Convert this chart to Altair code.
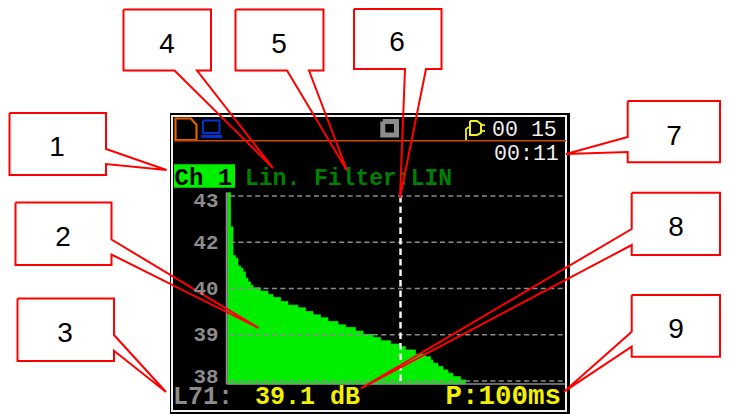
import json
import altair as alt
import pandas as pd

W, H = 713, 406

# ---- statistics bars: LCD column edges and level (dB) ----
bin_start = [0,1,2,3,4,5,6,7,8,9,10,13,16,18,21,24,28,31,34,37,40,44,47,51,54,58,61,65,69,71,75,79,81,82,84,86,88,90,93]
bin_end   = [1,2,3,4,5,6,7,8,9,10,13,16,18,21,24,28,31,34,37,40,44,47,51,54,58,61,65,69,71,75,79,81,82,84,86,88,90,93,95]
levels = [43.09,42.17,41.39,41.32,41.11,41.05,40.95,40.78,40.68,40.59,40.52,40.43,40.34,40.26,40.15,40.05,
          39.98,39.88,39.79,39.71,39.61,39.52,39.45,39.35,39.26,39.18,39.09,39.00,38.93,38.84,38.73,38.66,
          38.57,38.48,38.39,38.30,38.21,38.12,38.03]
bar_floor = 37.92
grid_levels = [38, 39.25, 40.5, 41.75, 43]
axis_positions = [38.116, 39.25, 40.5, 41.75, 42.89]
axis_labels = ["38", "39", "40", "42", "43"]
cursor_col = 69

# ---- screen texts ----
clock_text = ["00 15", "00:11"]
clock_x    = [492, 494]
clock_y    = [136, 160]
screen_text = ["Ch 1", "Lin. Filter:LIN", "L71:", "39.1 dB", "P:100ms"]
screen_x    = [174.5, 245, 173, 255, 445.5]
screen_y    = [185, 185, 404, 404, 404]
screen_size = [24, 23, 25, 25, 27.5]
screen_col  = ["#000000", "#008000", "#8c8c8c", "#f0f000", "#f0f000"]

# ---- callouts ----
callout_num = ["1", "2", "3", "4", "5", "6", "7", "8", "9"]
callout_tx  = [57, 63, 65, 167, 279, 397, 674, 676, 676]
callout_ty  = [148, 238, 334, 45, 45, 43, 137, 228, 330]
callout_paths = {
    "1": [(9.5,113),(106,113),(106,149),(166.5,170),(106,164),(106,175),(9.5,175),(9.5,113)],
    "2": [(15.5,202.5),(111.5,202.5),(111.5,239.5),(258.5,328),(111.5,254.5),(111.5,265),(15.5,265),(15.5,202.5)],
    "3": [(17.5,298.5),(114,298.5),(114,335),(166,392),(114,350.7),(114,361),(17.5,361),(17.5,298.5)],
    "4": [(123.5,9.5),(211,9.5),(211,70.5),(197,70.5),(273,168),(174.5,70.5),(123.5,70.5),(123.5,9.5)],
    "5": [(235.5,9.5),(323.5,9.5),(323.5,70.5),(309,70.5),(347,170.5),(287,70.5),(235.5,70.5),(235.5,9.5)],
    "6": [(354,9),(441.5,9),(441.5,69),(426,69),(400,198),(405,69),(354,69),(354,9)],
    "7": [(627.7,101),(720,101),(720,162.3),(627.7,162.3),(627.7,152),(566,154),(627.7,137),(627.7,101)],
    "8": [(631.7,192.7),(720,192.7),(720,255),(631.7,255),(631.7,245),(361,388.3),(631.7,229),(631.7,192.7)],
    "9": [(631.7,295),(720,295),(720,356.7),(631.7,356.7),(631.7,346.7),(564,391.7),(631.7,331.7),(631.7,295)],
}

# ---- device frame and status icons ----
icon_paths = [
    ("folder", "#e06000", 2.2, [(175.5,140),(175.5,118.5),(191,118.5),(196.5,125),(196.5,140),(175.5,140)]),
    ("screen", "#0033cc", 2, [(203,120.5),(219.5,120.5),(219.5,133),(203,133),(203,120.5)]),
    ("base", "#0033cc", 3, [(201,136.5),(222,136.5)]),
    ("stop", "#8c8c8c", 5, [(382.8,121.5),(396.5,121.5),(396.5,135),(382.8,135),(382.8,121.5)]),
    ("cord", "#f0f020", 1.8, [(466,140),(466,129),(469,127)]),
    ("plug", "#f0f020", 2, [(470,121),(477,121),(481,124),(481,133),(477,135),(470,135),(470,121)]),
    ("pin1", "#f0f020", 1.8, [(481,125),(485,125)]),
    ("pin2", "#f0f020", 1.8, [(481,131),(485,131)]),
    ("rule", "#c84b00", 1.5, [(174,140.7),(566,140.7)]),
]

px_x = alt.Scale(domain=[8, 8 + W], range=[0, W])
px_y = alt.Scale(domain=[8, 8 + H], range=[0, H])
col_x = alt.Scale(domain=[0, 135], range=[228 - 8, 565.5 - 8])
db_y = alt.Scale(domain=[38, 43], range=[381 - 8, 196 - 8], zero=False)

MONO = "Liberation Mono"

def X(f): return alt.X(f, type="quantitative", scale=px_x, axis=None)
def Y(f): return alt.Y(f, type="quantitative", scale=px_y, axis=None)

def box(x0, x1, y0, y1, **kw):
    d = pd.DataFrame({"a": [x0], "b": [x1], "c": [y0], "d": [y1]})
    return alt.Chart(d).mark_rect(**kw).encode(x=X("a"), x2="b", y=Y("c"), y2="d")

layers = [
    box(170, 570, 113, 414, color="#000000"),
    box(172, 566, 116, 411, fill=None, filled=False, stroke="#f0f0f0", strokeWidth=2),
    box(174, 235, 164.3, 187.7, color="#00f000"),
]

for name, col, sw, pts in icon_paths:
    d = pd.DataFrame({"x": [p[0] for p in pts], "y": [p[1] for p in pts], "i": range(len(pts))})
    layers.append(
        alt.Chart(d).mark_line(color=col, strokeWidth=sw, strokeJoin="miter", strokeCap="butt")
        .encode(x=X("x"), y=Y("y"), order="i:Q")
    )

clock = pd.DataFrame({"t": clock_text, "x": clock_x, "y": clock_y})
layers.append(
    alt.Chart(clock).mark_text(font=MONO, fontSize=21.6, color="#f0f0f0", align="left", baseline="alphabetic")
    .encode(x=X("x"), y=Y("y"), text="t:N")
)
txt = pd.DataFrame({"t": screen_text, "x": screen_x, "y": screen_y, "s": screen_size, "c": screen_col})
layers.append(
    alt.Chart(txt).mark_text(font=MONO, fontWeight="bold", align="left", baseline="alphabetic")
    .encode(x=X("x"), y=Y("y"), text="t:N",
            size=alt.Size("s:Q", scale=None, legend=None),
            color=alt.Color("c:N", scale=None, legend=None))
)

# bars with the real dB axis
bars = pd.DataFrame({"b0": bin_start, "b1": bin_end, "lvl": levels, "floor": [bar_floor] * len(levels)})
label_expr = f"{json.dumps(axis_labels)}[indexof({json.dumps(axis_positions)}, datum.value)]"
layers.append(
    alt.Chart(bars).mark_bar(color="#00ee00", stroke="#00ee00", strokeWidth=0.7).encode(
        x=alt.X("b0:Q", scale=col_x, axis=None),
        x2="b1:Q",
        y=alt.Y("lvl:Q", scale=db_y, title=None, axis=alt.Axis(
            orient="left", offset=-210, values=axis_positions, labelExpr=label_expr,
            ticks=False, domain=False, grid=False, labelPadding=0, labelOverlap=False,
            labelFlush=False, labelBound=False, labelFont=MONO, labelFontWeight="bold",
            labelFontSize=20.8, labelColor="#8c8c8c", zindex=1)),
        y2="floor:Q",
    )
)

# grid, axis lines and cursor
grid = pd.DataFrame({"g": grid_levels, "a": [0.8] * 5, "b": [135] * 5})
layers.append(
    alt.Chart(grid).mark_rule(color="#8c8c8c", strokeWidth=1.5, strokeDash=[5, 3.4]).encode(
        x=alt.X("a:Q", scale=col_x, axis=None), x2="b:Q", y=alt.Y("g:Q", scale=db_y, axis=None))
)
base = pd.DataFrame({"g": [bar_floor], "a": [-0.6], "b": [135]})
layers.append(
    alt.Chart(base).mark_rule(color="#8c8c8c", strokeWidth=1.5).encode(
        x=alt.X("a:Q", scale=col_x, axis=None), x2="b:Q", y=alt.Y("g:Q", scale=db_y, axis=None))
)
yaxis = pd.DataFrame({"a": [-0.5], "g0": [43.1], "g1": [bar_floor]})
layers.append(
    alt.Chart(yaxis).mark_rule(color="#8c8c8c", strokeWidth=2).encode(
        x=alt.X("a:Q", scale=col_x, axis=None), y=alt.Y("g0:Q", scale=db_y, axis=None), y2="g1:Q")
)
cur = pd.DataFrame({"a": [cursor_col], "g0": [43], "g1": [bar_floor + 0.05]})
layers.append(
    alt.Chart(cur).mark_rule(color="#ffffff", strokeWidth=2.4, strokeDash=[6.5, 4]).encode(
        x=alt.X("a:Q", scale=col_x, axis=None), y=alt.Y("g0:Q", scale=db_y, axis=None), y2="g1:Q")
)

# callouts on top
rows = []
for k, pts in callout_paths.items():
    for i, (x, y) in enumerate(pts):
        rows.append({"id": k, "i": i, "x": x, "y": y})
layers.append(
    alt.Chart(pd.DataFrame(rows)).mark_line(color="#ff0000", strokeWidth=2, strokeJoin="miter")
    .encode(x=X("x"), y=Y("y"), detail="id:N", order="i:Q")
)
nums = pd.DataFrame({"t": callout_num, "x": callout_tx, "y": callout_ty})
layers.append(
    alt.Chart(nums).mark_text(font="Liberation Sans", fontSize=28, color="#000000", baseline="middle", align="center")
    .encode(x=X("x"), y=Y("y"), text="t:N")
)

chart = (
    alt.layer(*layers)
    .resolve_scale(x="independent", y="independent")
    .properties(width=W, height=H, padding=0, autosize=alt.AutoSizeParams(type="none"), background="#ffffff")
    .configure_view(stroke=None)
)
chart.save("out.html", embed_options={"renderer": "svg", "actions": False})
